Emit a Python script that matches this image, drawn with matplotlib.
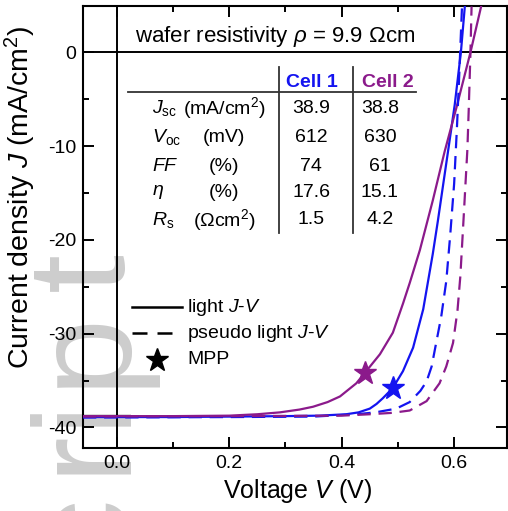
import matplotlib
matplotlib.use("Agg")
import matplotlib.pyplot as plt
from matplotlib.ticker import MultipleLocator, FixedLocator

plt.rcParams['font.family'] = ['Liberation Sans', 'DejaVu Sans']
plt.rcParams['mathtext.fontset'] = 'custom'
plt.rcParams['mathtext.rm'] = 'Liberation Sans'
plt.rcParams['mathtext.it'] = 'Liberation Sans:italic'
plt.rcParams['mathtext.bf'] = 'Liberation Sans:bold'

# ---- data ----
cell1_light_V = [-0.06, 0.1, 0.2, 0.3, 0.36, 0.408, 0.43, 0.45, 0.462, 0.473, 0.491, 0.509, 0.527,
                 0.545, 0.562, 0.571, 0.580, 0.590, 0.601, 0.612, 0.619]
cell1_light_J = [-38.9, -38.9, -38.85, -38.8, -38.75, -38.6, -38.4, -38.0, -37.5, -36.9, -35.8, -34.0, -31.5,
                 -27.4, -21.5, -18.0, -14.3, -10.2, -5.6, 0.0, 4.9]

cell2_light_V = [-0.06, 0.1, 0.2, 0.25, 0.29, 0.325, 0.349, 0.375, 0.397, 0.426, 0.441, 0.468, 0.491,
                 0.509, 0.521, 0.539, 0.562, 0.583, 0.604, 0.629, 0.648]
cell2_light_J = [-38.8, -38.8, -38.75, -38.6, -38.4, -38.1, -37.8, -37.3, -36.7, -35.3, -34.2, -32.2, -29.9,
                 -26.8, -24.6, -21.1, -15.8, -10.6, -5.9, 0.0, 4.9]

cell1_pseudo_V = [-0.06, 0.2, 0.35, 0.426, 0.46, 0.497, 0.521, 0.540, 0.551, 0.560, 0.568, 0.577,
                  0.586, 0.593, 0.600, 0.605, 0.609, 0.611, 0.614]
cell1_pseudo_J = [-38.95, -38.9, -38.85, -38.6, -38.4, -38.0, -37.3, -36.1, -35.1, -33.5, -31.0, -28.2,
                  -24.4, -19.5, -14.0, -8.0, -2.5, 0.5, 4.9]

cell2_pseudo_V = [-0.06, 0.2, 0.4, 0.45, 0.49, 0.521, 0.551, 0.574, 0.586, 0.598, 0.606, 0.611,
                  0.617, 0.6235, 0.626, 0.629, 0.631]
cell2_pseudo_J = [-38.85, -38.8, -38.75, -38.6, -38.45, -38.2, -37.2, -35.3, -33.5, -31.0, -27.5, -23.9,
                  -17.5, -10.4, -6.0, 0.0, 4.9]

mpp_V = [0.491, 0.441]
mpp_J = [-35.8, -34.2]

table_rows = [r'$J_{\rm sc}$', r'$V_{\rm oc}$', r'$FF$', r'$\eta$', r'$R_{\rm s}$']
table_units = [r'(mA/cm$^2$)', '(mV)', '(%)', '(%)', r'($\Omega$cm$^2$)']
cell1_values = ['38.9', '612', '74', '17.6', '1.5']
cell2_values = ['38.8', '630', '61', '15.1', '4.2']
cell_names = ['Cell 1', 'Cell 2']

x_ticks = [0.0, 0.2, 0.4, 0.6]
y_ticks = [0, -10, -20, -30, -40]

watermark_letters = ['c', 'r', 'i', 'p', 't']

BLUE = '#1414f0'
PURPLE = '#8b1a8b'

W, H = 508, 511
fig = plt.figure(figsize=(W / 100, H / 100), dpi=100)
L, R, T, B = 83, 507, 6, 448
ax = fig.add_axes([L / W, 1 - B / H, (R - L) / W, (B - T) / H])
ax.set_facecolor('none')

# watermark (letters of a rotated "Manuscript" stamp), drawn beneath everything
for ch, yc in zip(watermark_letters, [528, 451, 410, 348, 271]):
    fig.text(123 / W, 1 - yc / H, ch, rotation=90, rotation_mode='anchor',
             ha='center', va='baseline', fontsize=101, color='#cdcdcd', zorder=-5)

def axf(px, py):
    return (px - L) / (R - L), (B - py) / (B - T)

ax.set_xlim(-0.06, 0.694)
ax.set_ylim(-42.2, 4.95)

ax.axhline(0, color='black', lw=1.4, zorder=1)
ax.axvline(0, color='black', lw=1.4, zorder=1)

lw = 1.6
ax.plot(cell1_light_V, cell1_light_J, color=BLUE, lw=lw, zorder=3)
ax.plot(cell2_light_V, cell2_light_J, color=PURPLE, lw=lw, zorder=3)
ax.plot(cell1_pseudo_V, cell1_pseudo_J, color=BLUE, lw=lw, dashes=(6, 3.5), zorder=3)
ax.plot(cell2_pseudo_V, cell2_pseudo_J, color=PURPLE, lw=lw, dashes=(6, 3.5), zorder=3)
ax.plot(mpp_V[0], mpp_J[0], marker='*', ms=17, color=BLUE, zorder=4)
ax.plot(mpp_V[1], mpp_J[1], marker='*', ms=17, color=PURPLE, zorder=4)

# ticks
ax.xaxis.set_major_locator(FixedLocator(x_ticks))
ax.set_xticklabels([f'{v:.1f}' for v in x_ticks])
ax.xaxis.set_minor_locator(MultipleLocator(0.1))
ax.yaxis.set_major_locator(FixedLocator(y_ticks))
ax.set_yticklabels([str(v) for v in y_ticks])
ax.yaxis.set_minor_locator(MultipleLocator(5))
ax.tick_params(which='both', direction='in', top=True, right=True, width=1.4, labelsize=14)
ax.tick_params(which='major', length=8, pad=5)
ax.tick_params(which='minor', length=4.5)
for s in ax.spines.values():
    s.set_linewidth(1.5)

ax.set_xlabel(r'Voltage $V$ (V)', fontsize=18)
ax.set_ylabel(r'Current density $J$ (mA/cm$^2$)', fontsize=20.5)
ax.xaxis.set_label_coords(0.505, -0.066)
ax.yaxis.set_label_coords(-0.105, 0.568)

# title text in the top band
x, y = axf(135, 36)
ax.text(x, y, r'wafer resistivity $\rho$ = 9.9 $\Omega$cm', transform=ax.transAxes,
        fontsize=16, ha='left', va='center')

# table
fs = 14
row_y = [108, 137, 166, 192, 220]
for name, cx, col in zip(cell_names, [312, 388], [BLUE, PURPLE]):
    x, y = axf(cx, 82)
    ax.text(x, y, name, transform=ax.transAxes, fontsize=fs, fontweight='bold',
            color=col, ha='center', va='center')
for i, yy in enumerate(row_y):
    x, y = axf(152, yy)
    ax.text(x, y, table_rows[i], transform=ax.transAxes, fontsize=fs, ha='left', va='center')
    x, y = axf(224, yy)
    ax.text(x, y, table_units[i], transform=ax.transAxes, fontsize=fs, ha='center', va='center')
    x, y = axf(311, yy)
    ax.text(x, y, cell1_values[i], transform=ax.transAxes, fontsize=fs, ha='center', va='center')
    x, y = axf(380, yy)
    ax.text(x, y, cell2_values[i], transform=ax.transAxes, fontsize=fs, ha='center', va='center')

x0, y0 = axf(128, 92)
x1, _ = axf(416, 92)
ax.plot([x0, x1], [y0, y0], color='#333333', lw=1.3, transform=ax.transAxes)
for vx in [279, 353]:
    xa, ya0 = axf(vx, 67)
    _, ya1 = axf(vx, 233)
    ax.plot([xa, xa], [ya0, ya1], color='#333333', lw=1.3, transform=ax.transAxes)

# legend
lx0, _ = axf(132, 0)
lx1, _ = axf(182, 0)
tx, _ = axf(187, 0)
_, y1 = axf(0, 307)
_, y2 = axf(0, 333)
_, y3 = axf(0, 360)
ax.plot([lx0, lx1], [y1, y1], color='black', lw=1.8, transform=ax.transAxes)
ax.plot([lx0, lx1], [y2, y2], color='black', lw=1.8, dashes=(6, 4), transform=ax.transAxes)
sx, _ = axf(157, 0)
ax.plot([sx], [y3], marker='*', ms=17, color='black', transform=ax.transAxes)
ax.text(tx, y1, r'light $J$-$V$', transform=ax.transAxes, fontsize=14, ha='left', va='center')
ax.text(tx, y2, r'pseudo light $J$-$V$', transform=ax.transAxes, fontsize=14, ha='left', va='center')
ax.text(tx, y3, 'MPP', transform=ax.transAxes, fontsize=14, ha='left', va='center')

fig.savefig('out.png', dpi=100)
